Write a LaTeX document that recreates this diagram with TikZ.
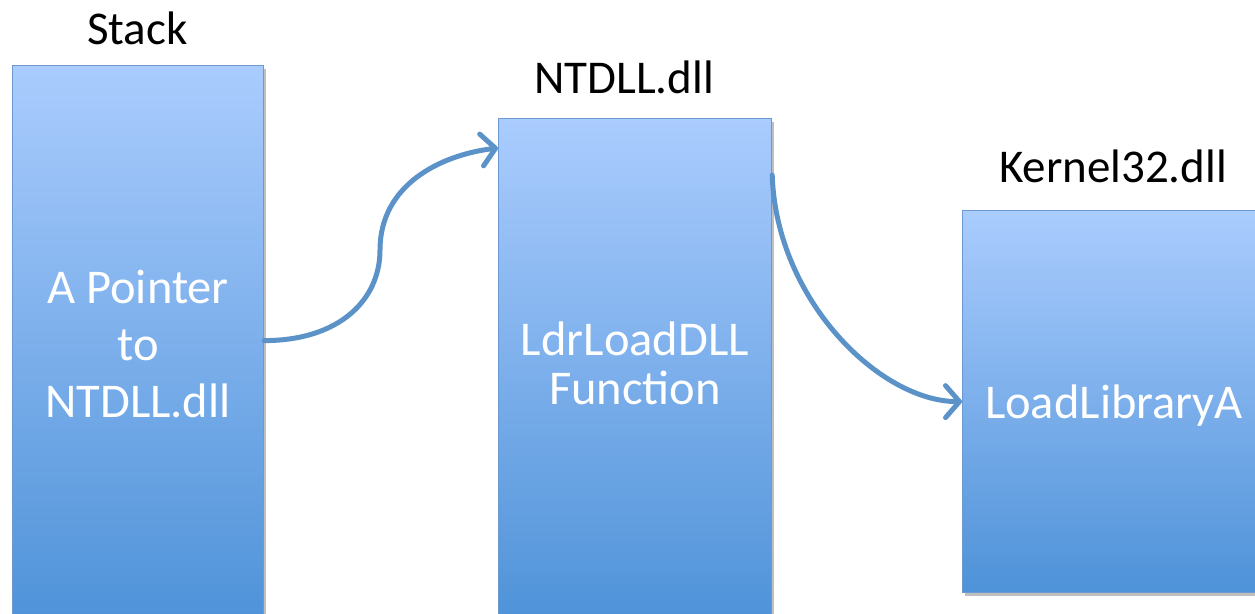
\documentclass[tikz,border=0pt]{standalone}
\usepackage{fontspec}
\setmainfont{Carlito}
\usetikzlibrary{arrows.meta,shadows}
\definecolor{boxtop}{RGB}{170,204,254}
\definecolor{boxbot}{RGB}{78,146,216}
\definecolor{boxline}{RGB}{108,154,208}
\definecolor{arrowblue}{RGB}{91,146,200}
\tikzset{
  memblock/.style={draw=boxline, line width=1.2pt, top color=boxtop, bottom color=boxbot,
    anchor=north west, inner sep=0pt,
    drop shadow={shadow xshift=2pt, shadow yshift=-3pt, opacity=0.25, fill=black}},
  headlabel/.style={font=\fontsize{47}{57}\selectfont, text=black, anchor=base, inner sep=0pt},
  intext/.style={font=\fontsize{48.5}{57}\selectfont, text=white, align=center, inner sep=0pt},
  callarrow/.style={draw=arrowblue, line width=5pt, line cap=round,
    -{Straight Barb[length=14pt, width=32pt, round]}}
}
\begin{document}
\begin{tikzpicture}[x=1pt,y=-1pt]
\useasboundingbox (0,0) rectangle (1255,613);
% boxes
\node[memblock, minimum width=251pt, minimum height=560pt] (stack) at (12,65) {};
\node[memblock, minimum width=273pt, minimum height=505pt] (ntdll) at (498,118) {};
\node[memblock, minimum width=310pt, minimum height=382pt] (kernel) at (962,210) {};
% labels above
\node[headlabel] (stacklbl) at (137.5,44) {Stack};
\node[headlabel] (ntdlllbl) at (624,93) {NTDLL.dll};
\node[headlabel] (kernellbl) at (1113,182) {Kernel32.dll};
% text inside
\node[intext] (stacktxt) at (138,343.5) {A Pointer\\to\\NTDLL.dll};
\node[intext, font=\fontsize{48.5}{49}\selectfont] (ntdlltxt) at (635,363) {LdrLoadDLL\\Function};
\node[intext, anchor=base] (kerneltxt) at (1114,418) {LoadLibraryA};
% connectors
\coordinate (a1start) at ([yshift=5pt]stack.east);
\coordinate (a1end) at ([yshift=-30pt]ntdll.north west);
\coordinate (a2start) at ([yshift=-57pt]ntdll.north east);
\draw[callarrow] (a1start) .. controls +(75pt,0) and (380,300) .. (380,250)
   .. controls (380,185) and (440,155) .. (a1end);
\draw[callarrow] (a2start) .. controls +(4pt,-125pt) and +(-82pt,0) .. (kernel.west);
\end{tikzpicture}
\end{document}
